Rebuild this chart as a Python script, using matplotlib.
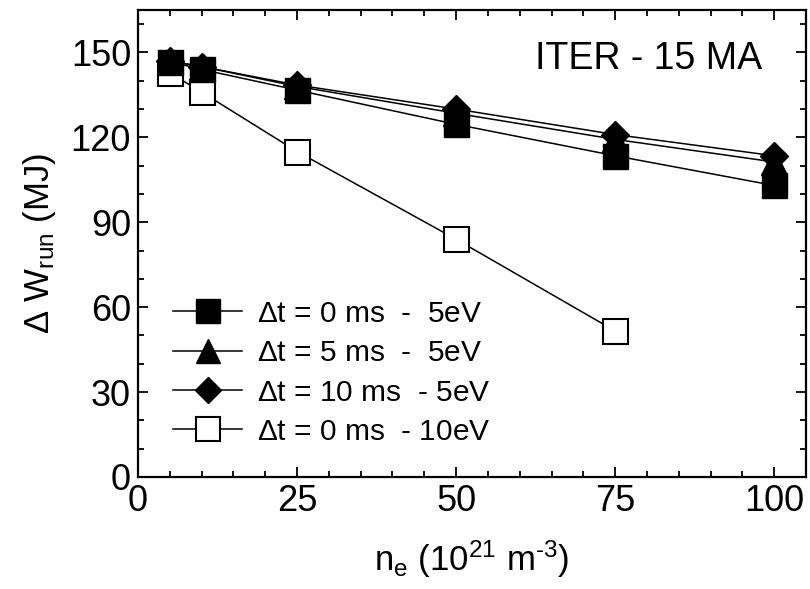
import numpy as np
import matplotlib
matplotlib.use("Agg")
from matplotlib import pyplot as plt
from matplotlib.ticker import MultipleLocator

plt.rcParams['font.family'] = ['Liberation Sans', 'DejaVu Sans']
plt.rcParams['mathtext.fontset'] = 'custom'
plt.rcParams['mathtext.rm'] = 'Liberation Sans'
plt.rcParams['mathtext.it'] = 'Liberation Sans:italic'

# densities (10^21 m^-3)
ne = [5, 10, 25, 50, 75, 100]
ne_10ev = [5, 10, 25, 50, 75]

# runaway energy (MJ)
w_0ms_5ev = [146.8, 144.0, 136.7, 124.6, 113.5, 103.0]
w_5ms_5ev = [147.0, 145.0, 138.0, 128.5, 119.3, 111.3]
w_10ms_5ev = [147.0, 145.0, 138.5, 130.0, 121.0, 113.5]
w_0ms_10ev = [142.8, 136.0, 115.0, 84.0, 51.6]

labels = [r"$\Delta$t = 0 ms  -  5eV",
          r"$\Delta$t = 5 ms  -  5eV",
          r"$\Delta$t = 10 ms  - 5eV",
          r"$\Delta$t = 0 ms  - 10eV"]

fig = plt.figure(figsize=(8.1, 5.89), dpi=100)
ax = fig.add_axes([138/810, 1-477/589, 668/810, 467/589])

lw = 1.1
ax.plot(ne, w_10ms_5ev, color='k', lw=lw, marker='D', ms=14, mfc='k', mec='k',
        label=labels[2], zorder=3)
ax.plot(ne, w_5ms_5ev, color='k', lw=lw, marker='^', ms=19, mfc='k', mec='k',
        label=labels[1], zorder=4)
ax.plot(ne, w_0ms_5ev, color='k', lw=lw, marker='s', ms=18, mfc='k', mec='k',
        label=labels[0], zorder=5)
ax.plot(ne_10ev, w_0ms_10ev, color='k', lw=lw, marker='s', ms=18, mfc='white',
        mec='k', mew=1.5, label=labels[3], zorder=2)

ax.set_xlim(0, 105)
ax.set_ylim(0, 165)
ax.xaxis.set_major_locator(MultipleLocator(25))
ax.xaxis.set_minor_locator(MultipleLocator(5))
ax.yaxis.set_major_locator(MultipleLocator(30))
ax.yaxis.set_minor_locator(MultipleLocator(10))
ax.tick_params(which='both', direction='in', top=True, right=True, width=1.3,
               labelsize=26, pad=5)
ax.tick_params(which='major', length=7)
ax.tick_params(which='minor', length=4)
for sp in ax.spines.values():
    sp.set_linewidth(1.6)

ax.set_xlabel(r"n$_\mathregular{e}$ (10$^\mathregular{21}$ m$^{\text{-3}}$)",
              fontsize=25, labelpad=14)
ax.set_ylabel(r"$\Delta$ W$_\mathregular{run}$ (MJ)", fontsize=25, labelpad=9)

ax.text(0.934, 0.895, "ITER - 15 MA", transform=ax.transAxes, ha='right',
        va='center', fontsize=27)

handles, labs = ax.get_legend_handles_labels()
order = [labs.index(l) for l in labels]
ax.legend([handles[i] for i in order], [labs[i] for i in order],
          loc='upper left', bbox_to_anchor=(0.035, 0.405), frameon=False,
          fontsize=21.5, markerscale=0.92, handlelength=2.3, handletextpad=0.5,
          labelspacing=0.38, borderaxespad=0)

fig.savefig("out.png", dpi=100)
